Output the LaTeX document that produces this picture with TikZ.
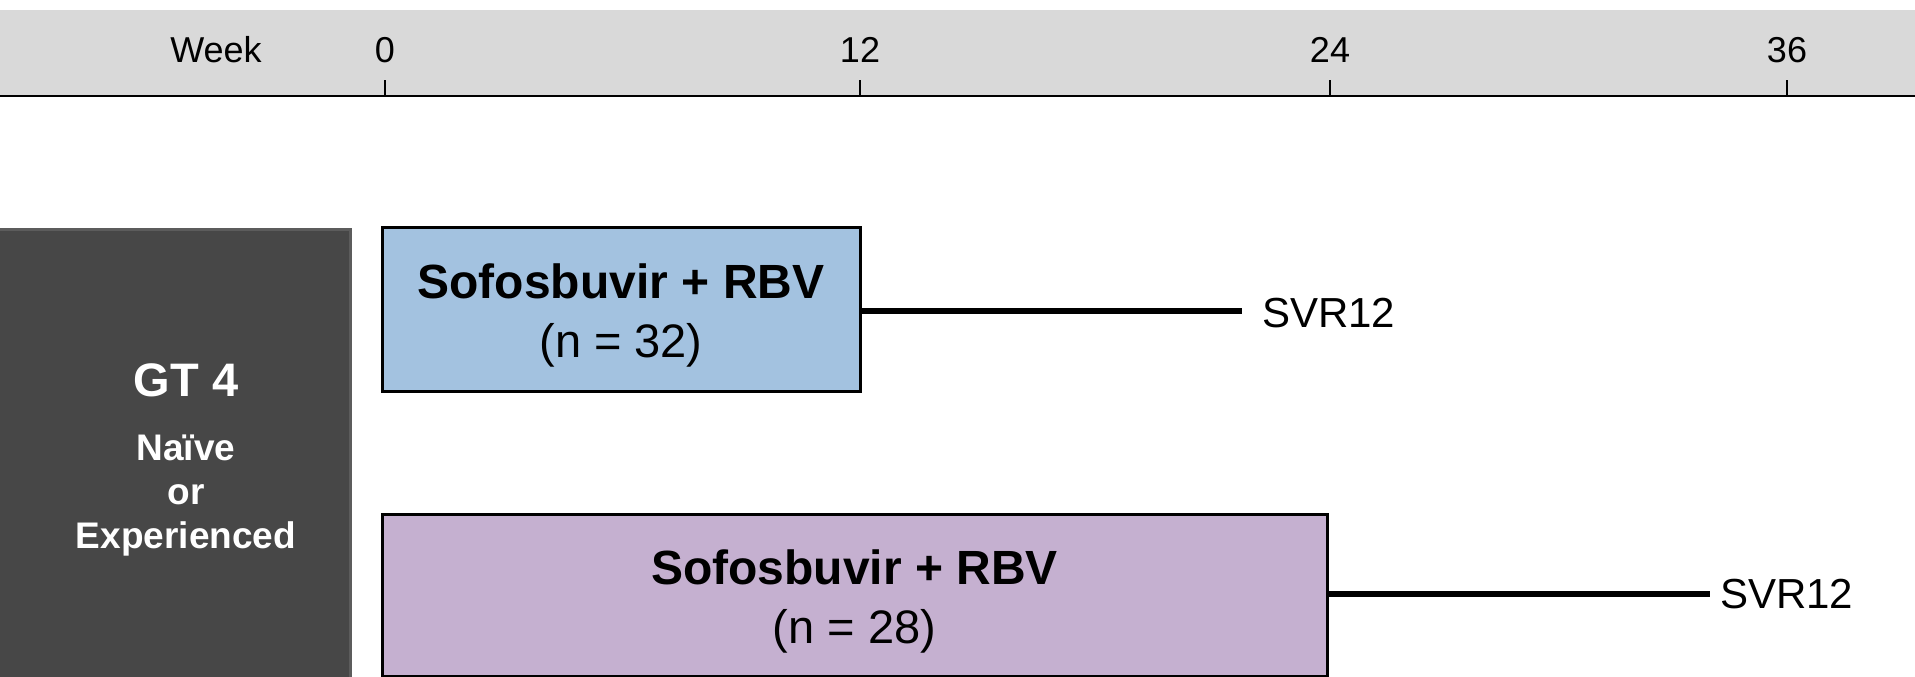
\documentclass[tikz,border=0pt]{standalone}
\usepackage{fontspec}
\setmainfont{Liberation Sans}
\definecolor{bandgray}{HTML}{D9D9D9}
\definecolor{darkbox}{HTML}{474747}
\definecolor{darkedge}{HTML}{5C5C5C}
\definecolor{armblue}{HTML}{A3C2E0}
\definecolor{armpurple}{HTML}{C5B0D0}
\tikzset{
  axislbl/.style={font=\fontsize{36}{40}\selectfont, inner sep=0pt, anchor=center},
  armbox/.style={draw=black, line width=3pt, inner sep=0pt, align=center,
    font=\fontsize{47}{59}\selectfont},
  armline/.style={line width=6pt},
  svrlbl/.style={font=\fontsize{42}{46}\selectfont, inner sep=0pt, anchor=west},
  tickmark/.style={line width=2pt},
}
\begin{document}
\begin{tikzpicture}[x=1pt,y=-1pt]
\clip (0,0) rectangle (1915,677);
\useasboundingbox (0,0) rectangle (1915,677);
% timeline band
\fill[bandgray] (0,10) rectangle (1915,96);
\coordinate (axL) at (0,96);
\coordinate (axR) at (1915,96);
\draw[line width=2.5pt] (axL) -- (axR);
\node[axislbl] (week) at (216,50) {Week};
\foreach \x/\w in {385/0,860/12,1330/24,1787/36}{
  \coordinate (t\w) at (\x,96);
  \coordinate (tt\w) at (\x,80);
  \draw[tickmark] (t\w) -- (tt\w);
  \node[axislbl] (lbl\w) at (\x,50) {\w};
}
% population box
\node[fill=darkbox, draw=darkedge, line width=3pt, inner sep=0pt,
  minimum width=370pt, minimum height=470pt, anchor=north east] (gt) at (352,228) {};
\node[font=\bfseries\fontsize{37}{44}\selectfont, text=white, align=center,
  inner sep=0pt, anchor=north] (gtlbl) at (186,363)
  {{\fontsize{47}{47}\selectfont GT 4}\\[20pt]Naïve\\or\\Experienced};
% arms
\node[armbox, fill=armblue, minimum width=478pt, minimum height=164pt]
  (arm1) at (621,309) {{\bfseries\fontsize{48}{59}\selectfont\rule{0pt}{47pt}Sofosbuvir + RBV}\\(n = 32)};
\node[armbox, fill=armpurple, minimum width=945pt, minimum height=162pt]
  (arm2) at (854.5,595) {{\bfseries\fontsize{48}{59}\selectfont\rule{0pt}{47pt}Sofosbuvir + RBV}\\(n = 28)};
% follow-up
\coordinate (e1) at (1242,311);
\coordinate (e2) at (1710,594);
\draw[armline] (arm1.east |- e1) -- (e1);
\draw[armline] (arm2.east |- e2) -- (e2);
\node[svrlbl] (svr1) at (1262,313) {SVR12};
\node[svrlbl] (svr2) at (1720,594) {SVR12};
\end{tikzpicture}
\end{document}
